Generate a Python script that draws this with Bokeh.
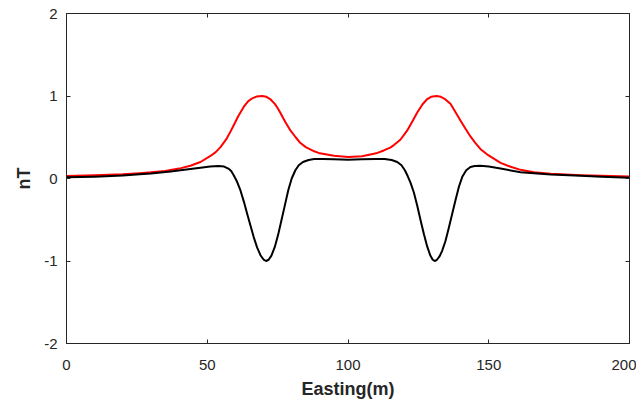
from bokeh.plotting import figure
from bokeh.models import Range1d, LinearAxis, FixedTicker
from bokeh.embed import file_html
from bokeh.resources import INLINE

# ---- data ----
x_ticks = [0, 50, 100, 150, 200]
y_ticks = [-2, -1, 0, 1, 2]

red_x = [0, 10, 20, 26, 30, 35, 40, 44, 47.6, 51,
         53, 54.7, 56, 57, 58.2, 59.4, 61, 63, 64.5, 66,
         67.5, 69.5, 71, 72.5, 74, 75, 76, 77, 78, 79.6,
         81.4, 83.1, 85, 88, 90, 95, 100, 105, 110, 112.7,
         115, 116.3, 118.6, 121, 123, 124.6, 126.5, 128, 129.5, 131.5,
         133, 134.5, 136.4, 138, 140, 141.8, 143.5, 145, 147.1, 149.5,
         151.8, 154.2, 157.5, 161.3, 166, 172, 182.7, 190, 200]
red_y = [0.03, 0.038, 0.052, 0.065, 0.075, 0.092, 0.12, 0.155, 0.2, 0.27,
         0.32, 0.38, 0.44, 0.49, 0.565, 0.645, 0.755, 0.87, 0.935, 0.972,
         0.993, 1.0, 0.99, 0.958, 0.905, 0.855, 0.795, 0.73, 0.67, 0.58,
         0.5, 0.43, 0.38, 0.33, 0.305, 0.275, 0.262, 0.27, 0.305, 0.34,
         0.375, 0.405, 0.47, 0.58, 0.70, 0.80, 0.90, 0.958, 0.99, 1.0,
         0.99, 0.962, 0.905, 0.815, 0.70, 0.60, 0.51, 0.44, 0.355, 0.29,
         0.24, 0.19, 0.145, 0.105, 0.075, 0.057, 0.04, 0.032, 0.025]

black_x = [0, 10, 20, 26, 30, 37, 44, 47.6, 51, 54,
           56, 57.5, 58.5, 59.4, 60.6, 61.8, 63, 64.2, 65.4, 66.5,
           67.7, 68.9, 70, 70.9, 71.8, 72.8, 74, 75.2, 76.4, 77.6,
           78.8, 80, 81.3, 82.5, 84, 86, 88, 91, 95, 100,
           105, 110, 113, 115.5, 117.5, 119, 120.2, 121.2, 122.2, 123.4,
           124.6, 125.8, 127, 128.1, 129.2, 130.1, 130.8, 131.6, 132.5, 133.4,
           134.6, 135.8, 137, 138.2, 139.4, 140.6, 142, 143.5, 145, 147,
           150, 154.2, 161.3, 172, 182.7, 190, 200]
black_y = [0.015, 0.022, 0.035, 0.052, 0.062, 0.085, 0.115, 0.13, 0.145, 0.152,
           0.145, 0.12, 0.09, 0.04, -0.04, -0.145, -0.28, -0.43, -0.575, -0.71,
           -0.835, -0.93, -0.982, -1.0, -0.985, -0.935, -0.83, -0.68, -0.5, -0.32,
           -0.14, 0.0, 0.1, 0.16, 0.2, 0.225, 0.235, 0.237, 0.232, 0.228,
           0.232, 0.237, 0.235, 0.225, 0.2, 0.16, 0.1, 0.03, -0.05, -0.17,
           -0.33, -0.51, -0.68, -0.82, -0.93, -0.985, -1.0, -0.985, -0.945, -0.88,
           -0.76, -0.6, -0.43, -0.26, -0.1, 0.02, 0.1, 0.14, 0.152, 0.155,
           0.145, 0.12, 0.075, 0.048, 0.032, 0.022, 0.01]

AX = "#262626"
FONT = "Liberation Sans"

p = figure(frame_width=563, frame_height=330,
           x_range=Range1d(0, 200), y_range=Range1d(-2, 2),
           output_backend="svg", toolbar_location=None,
           min_border_left=66, min_border_right=7,
           min_border_top=13, min_border_bottom=50,
           background_fill_color="white", border_fill_color="white")
p.outline_line_color = AX
p.xgrid.grid_line_color = None
p.ygrid.grid_line_color = None

xa = p.below[0]
ya = p.left[0]

p.line(red_x, red_y, line_color="#ff0000", line_width=2, line_join="round")
p.line(black_x, black_y, line_color="#000000", line_width=2, line_join="round")

# top / right axes for the MATLAB box ticks (no labels)
top = LinearAxis(ticker=FixedTicker(ticks=x_ticks),
                 major_label_overrides={t: "" for t in x_ticks})
right = LinearAxis(ticker=FixedTicker(ticks=y_ticks),
                   major_label_overrides={t: "" for t in y_ticks})
for ax in (top, right):
    ax.major_label_text_font_size = "1px"
    ax.major_label_standoff = 0
    ax.major_tick_in = 4
    ax.major_tick_out = 0
    ax.minor_tick_line_color = None
    ax.axis_line_color = AX
    ax.major_tick_line_color = AX
p.add_layout(top, "above")
p.add_layout(right, "right")

xa.ticker = FixedTicker(ticks=x_ticks)
ya.ticker = FixedTicker(ticks=y_ticks)
ya.major_label_overrides = {t: str(t) for t in y_ticks}
xa.axis_label = "Easting(m)"
ya.axis_label = "nT"
for ax, st in ((xa, 16), (ya, 9)):
    ax.major_tick_in = 4
    ax.major_tick_out = 0
    ax.minor_tick_line_color = None
    ax.axis_line_color = AX
    ax.major_tick_line_color = AX
    ax.major_label_text_font = FONT
    ax.major_label_text_font_size = "15px"
    ax.major_label_text_color = AX
    ax.major_label_standoff = st
    ax.axis_label_text_font = FONT
    ax.axis_label_text_font_size = "18px"
    ax.axis_label_text_font_style = "bold"
    ax.axis_label_text_color = AX
xa.axis_label_standoff = 6
ya.axis_label_standoff = 7

open("out.html", "w").write(file_html(p, INLINE))
